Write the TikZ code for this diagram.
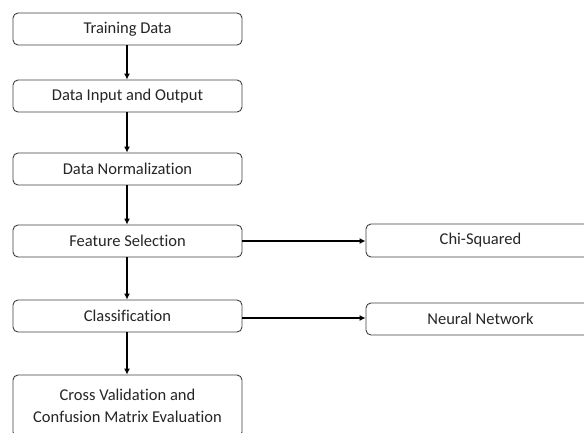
\documentclass[tikz,border=0pt]{standalone}
\usepackage{fontspec}
\setmainfont{Carlito}[Ligatures={NoCommon}]
\usetikzlibrary{arrows.meta}
\begin{document}
\begin{tikzpicture}[x=1pt,y=-1pt,
  box/.style={draw=black!75, line width=0.9pt, rounded corners=5pt, fill=white,
    minimum width=229pt, inner sep=0pt, align=center,
    font=\fontsize{16.5}{21.5}\selectfont, text=black!85},
  conn/.style={line width=2pt, -{Latex[length=6pt,width=6pt]}}]
\useasboundingbox (0,0) rectangle (584,432);
\clip (0,0) rectangle (584,432);
\node[box, minimum height=32pt] (td) at (127.5,29) {Training Data};
\node[box, minimum height=32pt] (dio) at (127.5,96) {Data Input and Output};
\node[box, minimum height=32pt] (dn) at (127.5,169) {Data Normalization};
\node[box, minimum height=32pt] (fs) at (127.5,241) {Feature Selection};
\node[box, minimum height=32pt] (cl) at (127.5,316) {Classification};
\node[box, minimum height=62pt] (cv) at (127.5,406) {Cross Validation and\\Confusion Matrix Evaluation};
\node[box, minimum height=33pt] (cs) at (480.5,240.5) {Chi-Squared};
\node[box, minimum height=32pt] (nn) at (480.5,319) {Neural Network};
\draw[conn] ([xshift=-0.5pt]td.south) -- ([xshift=-0.5pt]dio.north);
\draw[conn] ([xshift=-0.5pt]dio.south) -- ([xshift=-0.5pt]dn.north);
\draw[conn] ([xshift=-0.5pt]dn.south) -- ([xshift=-0.5pt]fs.north);
\draw[conn] ([xshift=-0.5pt]fs.south) -- ([xshift=-0.5pt]cl.north);
\draw[conn] ([xshift=-0.5pt]cl.south) -- ([xshift=-0.5pt]cv.north);
\draw[conn] (fs.east |- 0,241) -- (cs.west |- 0,241);
\draw[conn] (cl.east |- 0,318) -- (nn.west |- 0,318);
\end{tikzpicture}
\end{document}
